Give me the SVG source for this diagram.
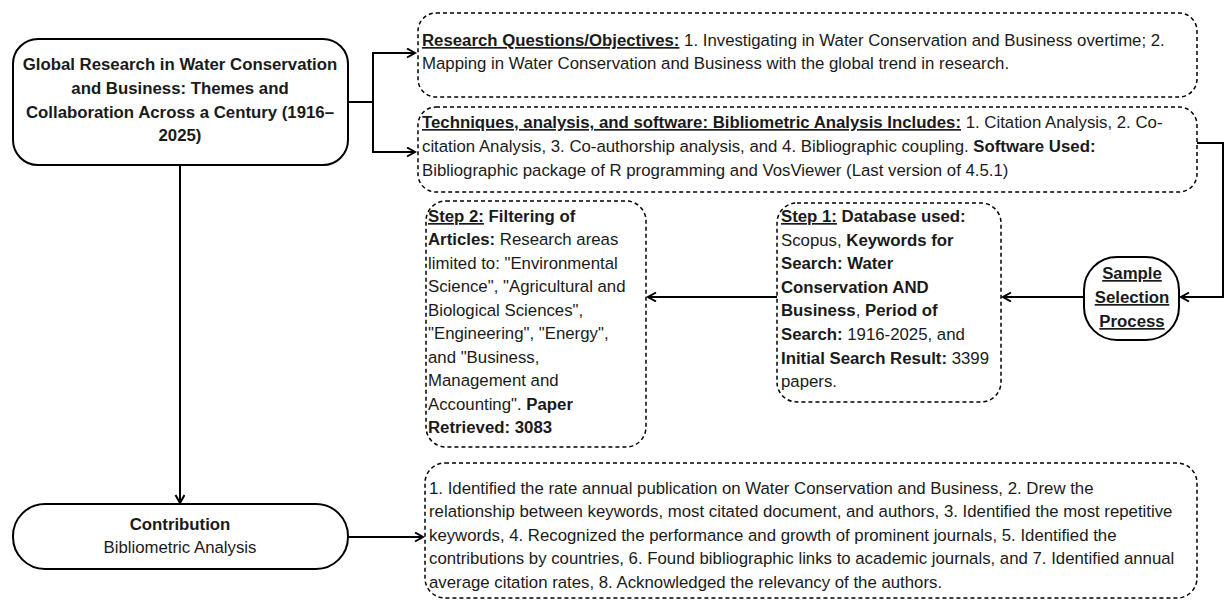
<svg xmlns="http://www.w3.org/2000/svg" width="1225" height="607" viewBox="0 0 1225 607">
<style>
text{font-family:"Liberation Sans",Arial,sans-serif;font-size:16.8px;fill:#1a1a1a}
.b{font-weight:bold}
.u{text-decoration:underline}
.solid{fill:#fff;stroke:#000;stroke-width:2}
.dash{fill:#fff;stroke:#000;stroke-width:1.5;stroke-dasharray:4 3}
.c{text-anchor:middle}
.conn path{fill:none;stroke:#000;stroke-width:2}
</style>
<defs>
<marker id="arr" markerUnits="userSpaceOnUse" markerWidth="12" markerHeight="12" refX="9" refY="5" orient="auto">
<path d="M1,0.5 L9,5 L1,9.5" fill="none" stroke="#000" stroke-width="2"/>
</marker>
</defs>
<rect width="1225" height="607" fill="#fff"/>
<g class="conn" id="connectors">
<path d="M348,102 H373 V53 H415" marker-end="url(#arr)"/>
<path d="M373,102 V152 H415" marker-end="url(#arr)"/>
<path d="M1197,143 H1223 V297 H1181" marker-end="url(#arr)"/>
<path d="M1084,297 H1003" marker-end="url(#arr)"/>
<path d="M777,297 H648" marker-end="url(#arr)"/>
<path d="M180,165 V503" marker-end="url(#arr)"/>
<path d="M348,537 H423" marker-end="url(#arr)"/>
</g>
<g id="global">
<rect class="solid" x="13" y="39" width="335" height="126" rx="25"/>
<text class="b c" x="180" y="70">Global Research in Water Conservation</text>
<text class="b c" x="180" y="94">and Business: Themes and</text>
<text class="b c" x="180" y="118">Collaboration Across a Century (1916–</text>
<text class="b c" x="180" y="141">2025)</text>
</g>
<g id="objectives">
<rect class="dash" x="418" y="13" width="779" height="84" rx="18"/>
<text x="422" y="46"><tspan class="b u">Research Questions/Objectives:</tspan> 1. Investigating in Water Conservation and Business overtime; 2.</text>
<text x="422" y="69">Mapping in Water Conservation and Business with the global trend in research.</text>
</g>
<g id="techniques">
<rect class="dash" x="418" y="107" width="779" height="85" rx="18"/>
<text x="422" y="128"><tspan class="b u">Techniques, analysis, and software: Bibliometric Analysis Includes:</tspan> 1. Citation Analysis, 2. Co-</text>
<text x="422" y="152">citation Analysis, 3. Co-authorship analysis, and 4. Bibliographic coupling. <tspan class="b">Software Used:</tspan></text>
<text x="422" y="176">Bibliographic package of R programming and VosViewer (Last version of 4.5.1)</text>
</g>
<g id="sample">
<rect class="solid" x="1084" y="257" width="95" height="83" rx="33"/>
<text class="b u c" x="1132" y="279">Sample</text>
<text class="b u c" x="1132" y="303">Selection</text>
<text class="b u c" x="1132" y="327">Process</text>
</g>
<g id="step1">
<rect class="dash" x="777" y="203" width="224" height="199" rx="20"/>
<text x="781" y="222"><tspan class="b u">Step 1:</tspan><tspan class="b"> Database used:</tspan></text>
<text x="781" y="246">Scopus, <tspan class="b">Keywords for</tspan></text>
<text x="781" y="269"><tspan class="b">Search: Water</tspan></text>
<text x="781" y="293"><tspan class="b">Conservation AND</tspan></text>
<text x="781" y="316"><tspan class="b">Business</tspan>, <tspan class="b">Period of</tspan></text>
<text x="781" y="340"><tspan class="b">Search:</tspan> 1916-2025, and</text>
<text x="781" y="364"><tspan class="b">Initial Search Result:</tspan> 3399</text>
<text x="781" y="387">papers.</text>
</g>
<g id="step2">
<rect class="dash" x="426" y="201" width="220" height="246" rx="20"/>
<text x="428" y="222"><tspan class="b u">Step 2:</tspan><tspan class="b"> Filtering of</tspan></text>
<text x="428" y="245"><tspan class="b">Articles:</tspan> Research areas</text>
<text x="428" y="269">limited to: "Environmental</text>
<text x="428" y="292">Science", "Agricultural and</text>
<text x="428" y="316">Biological Sciences",</text>
<text x="428" y="339">"Engineering", "Energy",</text>
<text x="428" y="363">and "Business,</text>
<text x="428" y="386">Management and</text>
<text x="428" y="410">Accounting". <tspan class="b">Paper</tspan></text>
<text x="428" y="433"><tspan class="b">Retrieved: 3083</tspan></text>
</g>
<g id="contribution">
<rect class="solid" x="13" y="504" width="335" height="65" rx="32"/>
<text class="b c" x="180" y="530">Contribution</text>
<text class="c" x="180" y="553">Bibliometric Analysis</text>
</g>
<g id="contrib-list">
<rect class="dash" x="425" y="463" width="772" height="135" rx="20"/>
<text x="429" y="494">1. Identified the rate annual publication on Water Conservation and Business, 2. Drew the</text>
<text x="429" y="517">relationship between keywords, most citated document, and authors, 3. Identified the most repetitive</text>
<text x="429" y="541">keywords, 4. Recognized the performance and growth of prominent journals, 5. Identified the</text>
<text x="429" y="564">contributions by countries, 6. Found bibliographic links to academic journals, and 7. Identified annual</text>
<text x="429" y="588">average citation rates, 8. Acknowledged the relevancy of the authors.</text>
</g>
</svg>
